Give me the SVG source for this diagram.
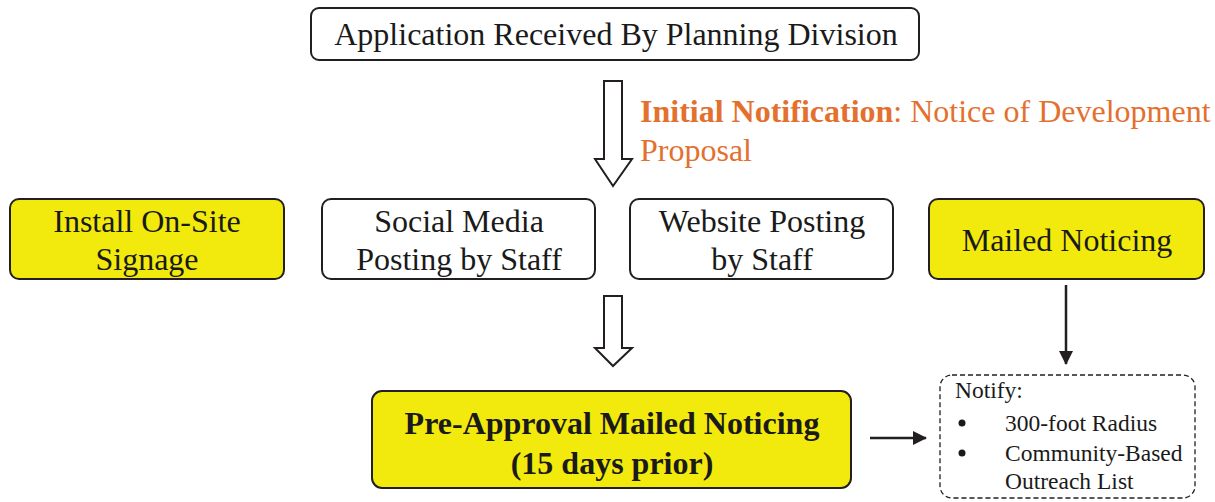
<svg xmlns="http://www.w3.org/2000/svg" width="1215" height="502" viewBox="0 0 1215 502">
<style>
text{font-family:"Liberation Serif","Times New Roman",serif;fill:#1a1a1a}
.t{font-size:32px;text-anchor:middle}
.box{stroke:#231f20;stroke-width:2}
.y{fill:#f2ea0d}
.w{fill:#fff}
.o{fill:#e4702e;font-size:32px}
.s{font-size:23.5px}
.hollow{fill:#fff;stroke:#231f20;stroke-width:2}
.line{stroke:#231f20;stroke-width:2.5;fill:none}
</style>
<defs>
<marker id="ah" markerWidth="14" markerHeight="14" refX="13" refY="7" orient="auto" markerUnits="userSpaceOnUse" viewBox="0 0 14 14">
<path d="M0,0 L14,7 L0,14 z" fill="#231f20"/>
</marker>
</defs>
<rect width="1215" height="502" fill="#fff"/>
<g id="connectors">
<path class="hollow" d="M604,81 H622 V159 H632 L613,186 L595,159 H604 Z"/>
<path class="hollow" d="M604,296 H622 V348 H632 L613,366 L595,348 H604 Z"/>
<line class="line" x1="1066" y1="285" x2="1066" y2="364" marker-end="url(#ah)"/>
<line class="line" x1="870" y1="438" x2="926" y2="438" marker-end="url(#ah)"/>
</g>
<g id="n-app">
<rect class="box w" x="311" y="8" width="608" height="52" rx="8"/>
<text class="t" x="616" y="45">Application Received By Planning Division</text>
</g>
<g id="n-initial">
<text class="o" x="640" y="122"><tspan font-weight="bold">Initial Notification</tspan>: Notice of Development</text>
<text class="o" x="640" y="161">Proposal</text>
</g>
<g id="n-signage">
<rect class="box y" x="10" y="199" width="274" height="80" rx="9"/>
<text class="t" x="147" y="232">Install On-Site</text>
<text class="t" x="147" y="270">Signage</text>
</g>
<g id="n-social">
<rect class="box w" x="322" y="199" width="273" height="80" rx="9"/>
<text class="t" x="459" y="232">Social Media</text>
<text class="t" x="459" y="270">Posting by Staff</text>
</g>
<g id="n-website">
<rect class="box w" x="630" y="199" width="263" height="80" rx="9"/>
<text class="t" x="762" y="232">Website Posting</text>
<text class="t" x="762" y="270">by Staff</text>
</g>
<g id="n-mailed">
<rect class="box y" x="929" y="199" width="275" height="80" rx="9"/>
<text class="t" x="1067" y="251">Mailed Noticing</text>
</g>
<g id="n-preapproval">
<rect class="box y" x="372" y="391" width="479" height="97" rx="10"/>
<text class="t" x="612" y="434" font-weight="bold" font-size="33">Pre-Approval Mailed Noticing</text>
<text class="t" x="612" y="474" font-weight="bold" font-size="33">(15 days prior)</text>
</g>
<g id="n-notify">
<rect x="940" y="375" width="255" height="123" rx="12" fill="#fff" stroke="#231f20" stroke-width="1.3" stroke-dasharray="5,3"/>
<text class="s" x="955" y="398">Notify:</text>
<circle cx="962" cy="423" r="3.5" fill="#1a1a1a"/>
<text class="s" x="1005" y="431">300-foot Radius</text>
<circle cx="962" cy="453" r="3.5" fill="#1a1a1a"/>
<text class="s" x="1005" y="461">Community-Based</text>
<text class="s" x="1005" y="489">Outreach List</text>
</g>
</svg>
